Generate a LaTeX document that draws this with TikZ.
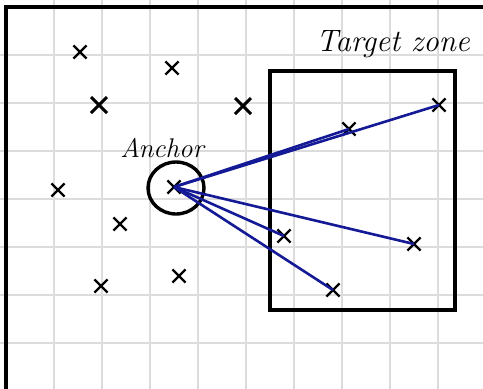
\documentclass[tikz,border=0pt]{standalone}
\usepackage{fontspec}
\usetikzlibrary{shapes.misc,shapes.geometric}
\definecolor{gridgray}{RGB}{220,220,220}
\definecolor{inkblue}{RGB}{20,25,150}
\tikzset{
  gridline/.style={draw=gridgray, line width=1.3pt},
  frameline/.style={draw=black, line width=3.2pt},
  xmark/.style={cross out, draw=black, line width=2.2pt, minimum size=11pt, inner sep=0pt},
  bigmark/.style={xmark, line width=3pt, minimum size=13pt},
  link/.style={draw=inkblue, line width=2.6pt},
  hand/.style={font=\fontsize{30}{30}\selectfont\itshape, inner sep=0pt}
}
\begin{document}
\begin{tikzpicture}[x=1pt, y=-1pt]
\useasboundingbox (0,0) rectangle (483,389);
\fill[white] (0,0) rectangle (483,389);
% grid
\foreach \gx in {54,102,150,198,246,294,342,390,438}
  \draw[gridline] (\gx,0) -- (\gx,389);
\foreach \gy in {55,103,151,199,247,295,343}
  \draw[gridline] (0,\gy) -- (483,\gy);
% outer frame
\draw[frameline] (6,395) -- (6,7) -- (490,7);
% target zone box
\node[frameline, draw, minimum width=185pt, minimum height=239pt, inner sep=0pt] (zone) at (362.5,190.5) {};
\node[hand, font=\fontsize{31}{31}\selectfont\itshape] (zlabel) at (393,44) {Target zone};
% anchor
\node[ellipse, draw=black, line width=3.4pt, minimum width=56pt, minimum height=52pt, inner sep=0pt] (ring) at (176,188) {};
\node[hand, font=\fontsize{27}{27}\selectfont\itshape] (alabel) at (162,148) {Anchor};
\node[xmark] (a) at (174,187) {};
% scattered marks
\node[xmark] (s1) at (80,52) {};
\node[xmark] (s2) at (172,68) {};
\node[bigmark] (s3) at (99,105) {};
\node[bigmark] (s4) at (243,106) {};
\node[xmark] (s5) at (58,190) {};
\node[xmark] (s6) at (120,224) {};
\node[xmark] (s7) at (101,286) {};
\node[xmark] (s8) at (179,276) {};
% target marks
\node[xmark] (t1) at (349,129) {};
\node[xmark] (t2) at (439,105) {};
\node[xmark] (t3) at (284,236) {};
\node[xmark] (t4) at (414,244) {};
\node[xmark] (t5) at (333,290) {};
% links
\draw[link] (a.center) -- (t1.center);
\draw[link] (a.center) -- (t2.center);
\draw[link] (a.center) -- (t3.center);
\draw[link] (a.center) -- (t4.center);
\draw[link] (a.center) -- (t5.center);
\end{tikzpicture}
\end{document}
